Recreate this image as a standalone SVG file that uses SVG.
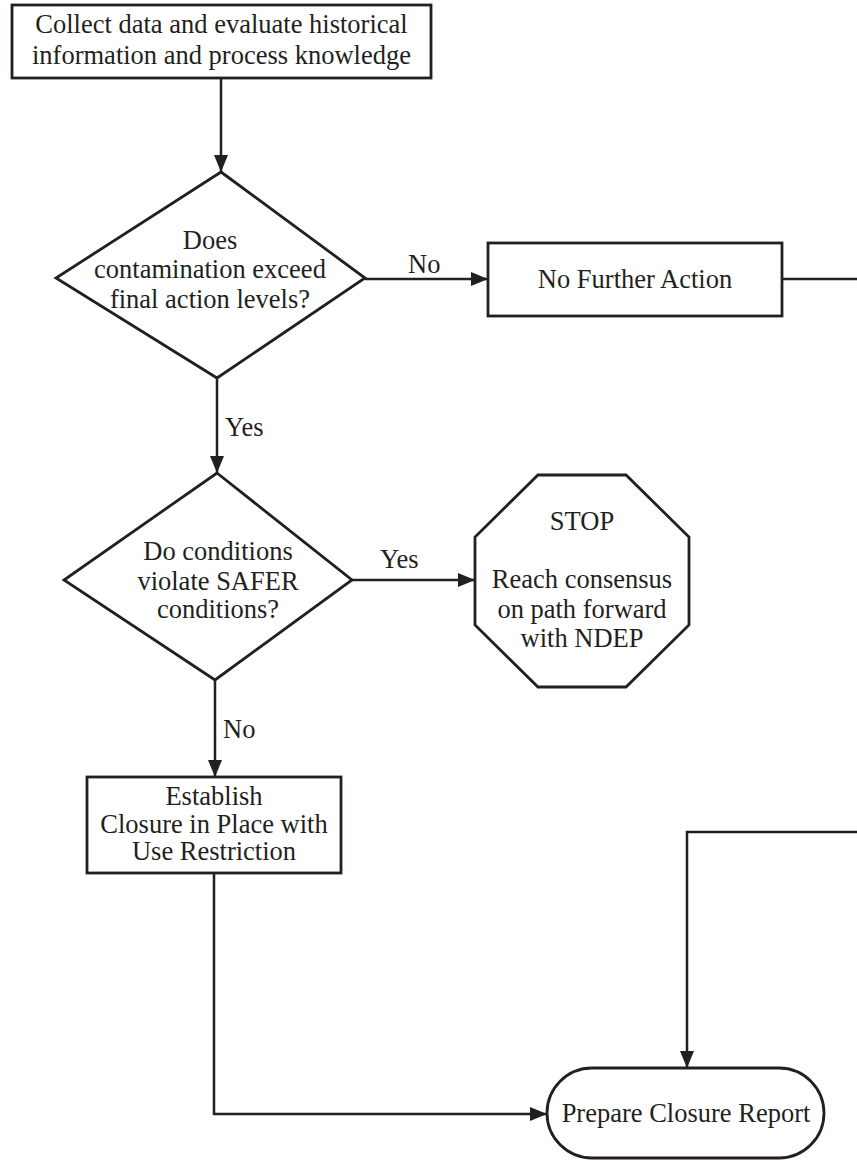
<svg xmlns="http://www.w3.org/2000/svg" width="857" height="1160" viewBox="0 0 857 1160">
<defs>
<style>
.shape{fill:#fff;stroke:#231f20;stroke-width:2.8}
.conn{fill:none;stroke:#231f20;stroke-width:2.5}
.t{font-family:"Liberation Serif","Times New Roman",serif;font-size:26.5px;fill:#231f20}
.m{text-anchor:middle}
</style>
<marker id="arr" markerUnits="userSpaceOnUse" markerWidth="18" markerHeight="14" refX="17" refY="7" orient="auto">
<path d="M0,0 L17,7 L0,14 z" fill="#231f20"/>
</marker>
</defs>
<rect width="857" height="1160" fill="#fff"/>
<g id="connectors">
<path class="conn" d="M221,78 V172" marker-end="url(#arr)"/>
<path class="conn" d="M365,279 H488" marker-end="url(#arr)"/>
<path class="conn" d="M782,279 H857"/>
<path class="conn" d="M217,378 V473" marker-end="url(#arr)"/>
<path class="conn" d="M352,580 H475" marker-end="url(#arr)"/>
<path class="conn" d="M215,680 V777" marker-end="url(#arr)"/>
<path class="conn" d="M214,873 V1114 H547" marker-end="url(#arr)"/>
<path class="conn" d="M857,832 H687 V1068" marker-end="url(#arr)"/>
<text class="t" x="408" y="273">No</text>
<text class="t" x="225" y="436">Yes</text>
<text class="t" x="380" y="568">Yes</text>
<text class="t" x="223" y="738">No</text>
</g>
<g id="collect">
<rect class="shape" x="12" y="5" width="419" height="73"/>
<text class="t m" x="221.5" y="33">Collect data and evaluate historical</text>
<text class="t m" x="221.5" y="64">information and process knowledge</text>
</g>
<g id="decision1">
<polygon class="shape" points="221,172 365,278 217,378 56,278"/>
<text class="t m" x="210" y="249">Does</text>
<text class="t m" x="210" y="278">contamination exceed</text>
<text class="t m" x="210" y="308">final action levels?</text>
</g>
<g id="nfa">
<rect class="shape" x="488" y="243" width="294" height="73"/>
<text class="t m" x="635" y="288">No Further Action</text>
</g>
<g id="decision2">
<polygon class="shape" points="217,473 352,580 215,680 64,580"/>
<text class="t m" x="218" y="560">Do conditions</text>
<text class="t m" x="218" y="590">violate SAFER</text>
<text class="t m" x="218" y="618">conditions?</text>
</g>
<g id="stop">
<polygon class="shape" points="538,475 626,475 689,537 689,625 626,687 538,687 475,625 475,537"/>
<text class="t m" x="582" y="530">STOP</text>
<text class="t m" x="582" y="588">Reach consensus</text>
<text class="t m" x="582" y="618">on path forward</text>
<text class="t m" x="582" y="647">with NDEP</text>
</g>
<g id="establish">
<rect class="shape" x="87" y="777" width="254" height="96"/>
<text class="t m" x="214" y="805">Establish</text>
<text class="t m" x="214" y="833">Closure in Place with</text>
<text class="t m" x="214" y="860">Use Restriction</text>
</g>
<g id="report">
<rect class="shape" x="547" y="1068" width="277" height="90" rx="45" ry="45"/>
<text class="t m" x="686" y="1122">Prepare Closure Report</text>
</g>
</svg>
